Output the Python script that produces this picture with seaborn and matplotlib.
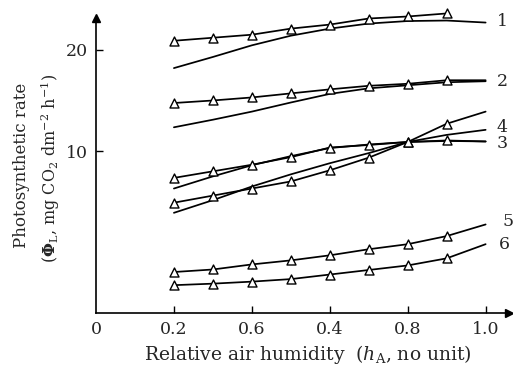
import numpy as np
import pandas as pd
import matplotlib
matplotlib.use("Agg")
import matplotlib.pyplot as plt
import seaborn as sns

# ---- data ----
x_meas = [0.2, 0.3, 0.4, 0.5, 0.6, 0.7, 0.8, 0.9]
x_model = [0.2, 0.3, 0.4, 0.5, 0.6, 0.7, 0.8, 0.9, 1.0]

meas1 = [20.9, 21.2, 21.5, 22.1, 22.5, 23.1, 23.3, 23.6]
meas2 = [14.75, 15.0, 15.3, 15.7, 16.1, 16.45, 16.65, 17.0]
meas3 = [7.35, 8.0, 8.65, 9.4, 10.35, 10.6, 10.9, 11.05]
meas4 = [4.9, 5.6, 6.3, 7.0, 8.1, 9.35, 10.9, 12.7]
meas5 = [-1.95, -1.7, -1.2, -0.8, -0.3, 0.3, 0.8, 1.6]
meas6 = [-3.25, -3.1, -2.9, -2.65, -2.2, -1.75, -1.3, -0.6]
# value of the measured line at x = 1.0 (no marker there)
meas_tail = [np.nan, 17.0, 10.95, 13.9, 2.75, 0.8]

model1 = [18.2, 19.3, 20.45, 21.4, 22.1, 22.6, 22.85, 22.9, 22.7]
model2 = [12.35, 13.1, 13.9, 14.8, 15.65, 16.2, 16.5, 16.8, 16.9]
model3 = [6.3, 7.5, 8.6, 9.5, 10.3, 10.65, 10.9, 11.0, 10.95]
model4 = [3.9, 5.15, 6.5, 7.7, 8.8, 9.8, 10.9, 11.6, 12.1]

series_names = ["1", "2", "3", "4", "5", "6"]
label_y = [22.76, 16.9, 10.7, 12.35, 3.05, 0.8]
label_x = [1.028, 1.028, 1.028, 1.028, 1.044, 1.033]

x_ticks = [0, 0.2, 0.4, 0.6, 0.8, 1.0]
x_tick_labels = ["0", "0.2", "0.6", "0.4", "0.8", "1.0"]
y_ticks = [10, 20]
y_tick_labels = ["10", "20"]

# ---- build tables ----
meas_all = [meas1, meas2, meas3, meas4, meas5, meas6]
model_all = [model1, model2, model3, model4]

rows = []
for name, vals, tail in zip(series_names, meas_all, meas_tail):
    for xv, yv in zip(x_meas, vals):
        rows.append(dict(series=name, x=xv, y=yv, marker=True))
    if not np.isnan(tail):
        rows.append(dict(series=name, x=1.0, y=tail, marker=False))
meas_df = pd.DataFrame(rows)

mrows = []
for name, vals in zip(series_names[:4], model_all):
    for xv, yv in zip(x_model, vals):
        mrows.append(dict(series=name, x=xv, y=yv))
model_df = pd.DataFrame(mrows)

# ---- plot ----
sns.set_style("ticks")
plt.rcParams["font.family"] = ["DejaVu Serif"]
plt.rcParams["mathtext.fontset"] = "dejavuserif"

fig = plt.figure(figsize=(5.13, 3.73), dpi=100)
ax = fig.add_axes([96 / 513, 60 / 373, 413 / 513, 295 / 373])

lw = 1.25
for name in series_names:
    d = meas_df[meas_df.series == name]
    sns.lineplot(data=d, x="x", y="y", color="black", lw=lw, ax=ax,
                 estimator=None, sort=True, legend=False)
for name in series_names[:4]:
    d = model_df[model_df.series == name]
    sns.lineplot(data=d, x="x", y="y", color="black", lw=lw, ax=ax,
                 estimator=None, sort=True, legend=False)

mk = meas_df[meas_df.marker]
sns.scatterplot(data=mk, x="x", y="y", marker="^", s=42, facecolor="white",
                edgecolor="black", linewidth=1.0, ax=ax, zorder=5, legend=False)

for line in ax.lines:
    line.set_clip_on(False)
for coll in ax.collections:
    coll.set_clip_on(False)

for name, lx, ly in zip(series_names, label_x, label_y):
    ax.text(lx, ly, name, fontsize=12.5, va="center", ha="left")

ax.set_xlim(0, 1.06)
ax.set_ylim(-6.0, 23.15)
ax.set_xticks(x_ticks)
ax.set_xticklabels(x_tick_labels, fontsize=12.5)
ax.set_yticks(y_ticks)
ax.set_yticklabels(y_tick_labels, fontsize=12.5)
ax.tick_params(direction="in", length=5, width=1, color="black", pad=6)
xt = ax.get_xaxis().get_major_ticks()
xt[0].tick1line.set_visible(False)

for s in ["top", "right"]:
    ax.spines[s].set_visible(False)
for s in ["left", "bottom"]:
    ax.spines[s].set_color("black")
    ax.spines[s].set_linewidth(1.2)

ax.plot(1, 0, ">", color="black", markersize=6, transform=ax.transAxes, clip_on=False)
ax.plot(0, 1, "^", color="black", markersize=6, transform=ax.transAxes, clip_on=False)

ax.set_xlabel("")
ax.set_ylabel("")

fig.text(308 / 513, 1 - 355 / 373,
         r"Relative air humidity  ($h_{\rm A}$, no unit)",
         ha="center", va="center", fontsize=13.5)
fig.text(22 / 513, 1 - 165 / 373, "Photosynthetic rate",
         rotation=90, ha="center", va="center", fontsize=12)
fig.text(50 / 513, 1 - 168 / 373,
         r"($\mathbf{\Phi}_{\rm L}$, mg CO$_2$ dm$^{-2}$ h$^{-1}$)",
         rotation=90, ha="center", va="center", fontsize=11.5)

fig.savefig("out.png", dpi=100)
